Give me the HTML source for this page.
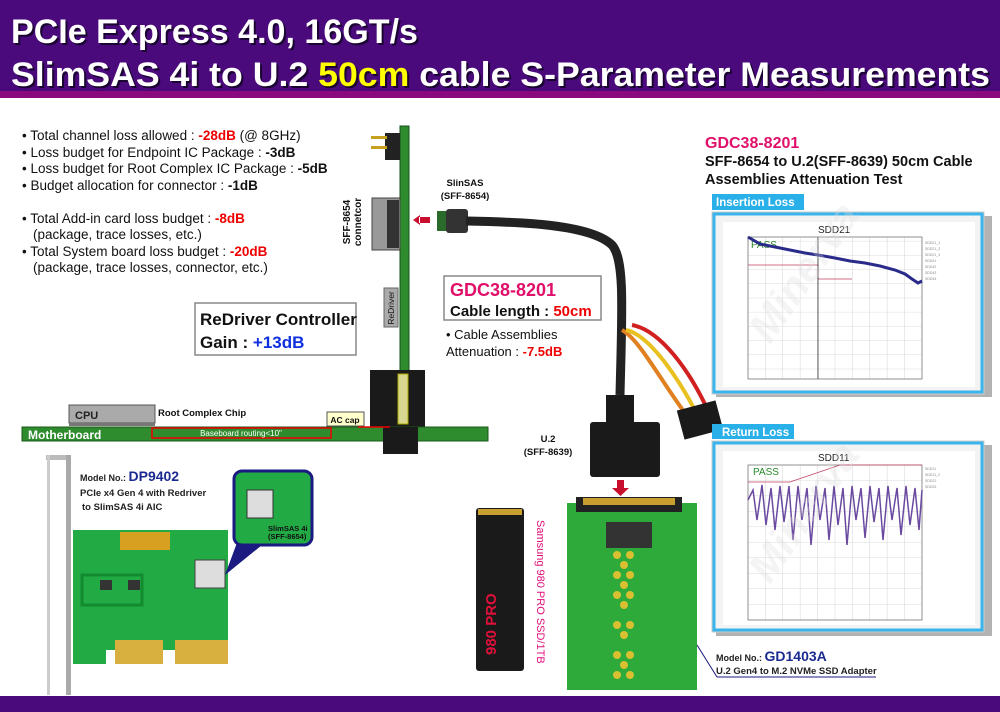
<!DOCTYPE html>
<html><head><meta charset="utf-8"><style>
html,body{margin:0;padding:0;background:#fff}
svg{display:block;font-family:"Liberation Sans",Arial,sans-serif}
</style></head><body>
<svg width="1000" height="712" viewBox="0 0 1000 712" xmlns="http://www.w3.org/2000/svg">
<defs>
<pattern id="g" width="17.4" height="14.2" patternUnits="userSpaceOnUse"><path d="M17.4 0V14.2H0" fill="none" stroke="#bbb" stroke-width="0.6"/></pattern>
<pattern id="g2" width="17.4" height="15.5" patternUnits="userSpaceOnUse"><path d="M17.4 0V15.5H0" fill="none" stroke="#bbb" stroke-width="0.6"/></pattern>
</defs>
<!-- header -->
<rect x="0" y="0" width="1000" height="92" fill="#4a0a7c"/>
<rect x="0" y="91" width="1000" height="7" fill="#8a0a7e"/>
<g font-weight="bold" font-size="34" fill="#1a0530">
<text x="13" y="45" textLength="407" lengthAdjust="spacingAndGlyphs">PCIe Express 4.0, 16GT/s</text>
<text x="13" y="88" textLength="979" lengthAdjust="spacingAndGlyphs">SlimSAS 4i to U.2 <tspan>50cm</tspan> cable S-Parameter Measurements</text>
</g>
<g font-weight="bold" font-size="34" fill="#fff">
<text x="11" y="43" textLength="407" lengthAdjust="spacingAndGlyphs">PCIe Express 4.0, 16GT/s</text>
<text x="11" y="86" textLength="979" lengthAdjust="spacingAndGlyphs">SlimSAS 4i to U.2 <tspan fill="#ffff00">50cm</tspan> cable S-Parameter Measurements</text>
</g>
<rect x="0" y="696" width="1000" height="16" fill="#4a0a7c"/>

<!-- bullets -->
<g font-size="13.5" fill="#111">
<text x="22" y="140">• Total channel loss allowed : <tspan fill="#e00" font-weight="bold">-28dB</tspan> (@ 8GHz)</text>
<text x="22" y="157">• Loss budget for Endpoint IC Package : <tspan font-weight="bold">-3dB</tspan></text>
<text x="22" y="173">• Loss budget for Root Complex IC Package : <tspan font-weight="bold">-5dB</tspan></text>
<text x="22" y="190">• Budget allocation for connector : <tspan font-weight="bold">-1dB</tspan></text>
<text x="22" y="223">• Total Add-in card loss budget : <tspan fill="#e00" font-weight="bold">-8dB</tspan></text>
<text x="33" y="239">(package, trace losses, etc.)</text>
<text x="22" y="256">• Total System board loss budget : <tspan fill="#e00" font-weight="bold">-20dB</tspan></text>
<text x="33" y="272">(package, trace losses, connector, etc.)</text>
</g>
<rect x="195" y="303" width="161" height="52" fill="#fff" stroke="#888" stroke-width="1.5"/>
<text x="200" y="325" font-size="17" font-weight="bold" fill="#111">ReDriver Controller</text>
<text x="200" y="348" font-size="17" font-weight="bold" fill="#111">Gain : <tspan fill="#1030e0">+13dB</tspan></text>

<!-- vertical card -->
<rect x="400" y="126" width="9" height="305" fill="#2e8b2e" stroke="#14501a"/>
<rect x="385" y="133" width="15" height="27" fill="#222"/>
<rect x="371" y="136" width="16" height="3" fill="#c8a020"/>
<rect x="371" y="146" width="16" height="3" fill="#c8a020"/>
<rect x="372" y="198" width="28" height="52" fill="#999" stroke="#444"/>
<rect x="387" y="200" width="12" height="48" fill="#333"/>
<text transform="translate(350,222) rotate(-90)" font-size="10" font-weight="bold" text-anchor="middle" fill="#111">SFF-8654</text>
<text transform="translate(361,222) rotate(-90)" font-size="10" font-weight="bold" text-anchor="middle" fill="#111">connetcor</text>
<rect x="384" y="288" width="14" height="39" fill="#aaa" stroke="#666"/>
<text transform="translate(394,308) rotate(-90)" font-size="8.5" text-anchor="middle" fill="#111">ReDriver</text>
<path d="M420 215 L413 220 L420 225 Z M419 217 H430 V223 H419Z" fill="#c8102e"/>
<!-- slimsas plug and cable -->
<text x="465" y="186" font-size="9.5" font-weight="bold" text-anchor="middle" fill="#111">SlinSAS</text>
<text x="465" y="199" font-size="9.5" font-weight="bold" text-anchor="middle" fill="#111">(SFF-8654)</text>
<rect x="437" y="211" width="10" height="20" fill="#2a6a2a"/>
<rect x="446" y="209" width="22" height="24" rx="3" fill="#333"/>
<path d="M466 221 C520 222, 590 224, 612 245 C625 260, 622 310, 620 395" fill="none" stroke="#222" stroke-width="9"/>
<path d="M622 330 C640 340, 660 380, 690 420" fill="none" stroke="#e08020" stroke-width="4"/>
<path d="M626 330 C650 335, 680 380, 700 420" fill="none" stroke="#e8c020" stroke-width="4"/>
<path d="M632 325 C660 330, 690 370, 710 415" fill="none" stroke="#d02020" stroke-width="4"/>
<rect x="680" y="405" width="40" height="30" fill="#1a1a1a" transform="rotate(-15 700 420)"/>
<rect x="606" y="395" width="28" height="30" fill="#1a1a1a"/>
<rect x="590" y="422" width="70" height="55" rx="3" fill="#1a1a1a"/>
<text x="548" y="442" font-size="9.5" font-weight="bold" text-anchor="middle" fill="#111">U.2</text>
<text x="548" y="455" font-size="9.5" font-weight="bold" text-anchor="middle" fill="#111">(SFF-8639)</text>
<path d="M617 480 H624 V488 H629 L620.5 496 L612 488 H617Z" fill="#c8102e"/>

<!-- GDC box -->
<rect x="444" y="276" width="157" height="44" fill="#fff" stroke="#888" stroke-width="1.5"/>
<text x="450" y="296" font-size="18" font-weight="bold" fill="#e0106a">GDC38-8201</text>
<text x="450" y="316" font-size="15" font-weight="bold" fill="#111">Cable length : <tspan fill="#e00">50cm</tspan></text>
<text x="446" y="339" font-size="13" fill="#111">• Cable Assemblies</text>
<text x="446" y="356" font-size="13" fill="#111">Attenuation : <tspan fill="#e00" font-weight="bold">-7.5dB</tspan></text>

<!-- motherboard -->
<rect x="370" y="370" width="55" height="60" fill="#1a1a1a"/>
<rect x="398" y="374" width="10" height="50" fill="#d8d890" stroke="#aa0"/>
<rect x="22" y="427" width="466" height="14" fill="#2e8b2e" stroke="#1a5a1a"/>
<rect x="383" y="427" width="35" height="27" fill="#1a1a1a"/>
<text x="28" y="439" font-size="12" font-weight="bold" fill="#fff">Motherboard</text>
<rect x="69" y="405" width="86" height="18" fill="#aaa" stroke="#555"/>
<rect x="69" y="423" width="86" height="3" fill="#777"/>
<text x="75" y="419" font-size="11" font-weight="bold" fill="#222">CPU</text>
<text x="158" y="416" font-size="9.5" font-weight="bold" fill="#111">Root Complex Chip</text>
<rect x="152" y="428" width="179" height="10" fill="none" stroke="#e00" stroke-width="1.5"/>
<text x="241" y="436" font-size="8" fill="#fff" text-anchor="middle">Baseboard routing&lt;10"</text>
<rect x="327" y="412" width="37" height="14" fill="#ffffcc" stroke="#555"/>
<text x="345" y="423" font-size="8.5" font-weight="bold" text-anchor="middle" fill="#111">AC cap</text>
<line x1="358" y1="427" x2="390" y2="427" stroke="#e00" stroke-width="1.5"/>

<!-- right title -->
<text x="705" y="148" font-size="16" font-weight="bold" fill="#e0106a">GDC38-8201</text>
<text x="705" y="166" font-size="14.5" font-weight="bold" fill="#111">SFF-8654 to U.2(SFF-8639) 50cm Cable</text>
<text x="705" y="184" font-size="14.5" font-weight="bold" fill="#111">Assemblies Attenuation Test</text>

<!-- insertion panel -->
<rect x="712" y="194" width="92" height="16" fill="#2ab0e8"/>
<text x="716" y="206" font-size="11.5" font-weight="bold" fill="#fff">Insertion Loss</text>
<rect x="716" y="216" width="276" height="181" fill="#666" opacity="0.5"/>
<rect x="712" y="212" width="272" height="182" fill="#f3f3f3" stroke="#ccc"/>
<rect x="714" y="214" width="268" height="178" fill="none" stroke="#39b4ec" stroke-width="3"/>
<rect x="723" y="222" width="252" height="165" fill="#fff"/>
<rect x="748" y="237" width="174" height="142" fill="url(#g)" stroke="#777" stroke-width="0.8"/>
<text x="818" y="233" font-size="10" fill="#222">SDD21</text>
<text x="751" y="248" font-size="10" fill="#2a8a2a">PASS</text>
<path d="M748 265 H818 V279 H852" fill="none" stroke="#c04060" stroke-width="0.8"/>
<line x1="818" y1="237" x2="818" y2="379" stroke="#333" stroke-width="0.8"/>
<polyline points="748,237 760,244 775,247 790,250 805,253 818,255 835,258 850,261 865,263 880,266 895,270 905,274 912,279 918,283 922,281" fill="none" stroke="#2a2a8a" stroke-width="3"/>
<g fill="#888" font-size="3.5"><text x="925" y="244">SDD21_1</text><text x="925" y="250">SDD21_2</text><text x="925" y="256">SDD21_3</text><text x="925" y="262">SDD41</text><text x="925" y="268">SDD42</text><text x="925" y="274">SDD43</text><text x="925" y="280">SDD44</text></g>
<text transform="translate(770,345) rotate(-55)" font-size="42" font-weight="bold" font-style="italic" fill="#ddd" opacity="0.3">Minerva</text>

<!-- return panel -->
<rect x="712" y="424" width="82" height="15" fill="#2ab0e8"/>
<text x="722" y="436" font-size="11.5" font-weight="bold" fill="#fff">Return Loss</text>
<rect x="716" y="445" width="276" height="191" fill="#666" opacity="0.5"/>
<rect x="712" y="441" width="272" height="191" fill="#f3f3f3" stroke="#ccc"/>
<rect x="714" y="443" width="268" height="187" fill="none" stroke="#39b4ec" stroke-width="3"/>
<rect x="723" y="451" width="252" height="174" fill="#fff"/>
<rect x="748" y="465" width="174" height="155" fill="url(#g2)" stroke="#777" stroke-width="0.8"/>
<text x="818" y="461" font-size="10" fill="#222">SDD11</text>
<text x="753" y="475" font-size="10" fill="#2a8a2a">PASS</text>
<path d="M748 482 H790 L840 465 H922" fill="none" stroke="#c04060" stroke-width="0.8"/>
<polyline points="748,500 753,490 757,520 762,485 766,525 771,488 775,530 780,486 784,522 789,486 793,540 798,486 802,520 807,488 811,545 816,486 820,520 825,488 829,540 834,486 838,525 843,488 847,545 852,486 856,520 861,488 865,538 870,486 874,522 879,488 883,540 888,486 892,520 897,488 901,535 906,486 910,525 915,488 919,530 922,490" fill="none" stroke="#6a4aa0" stroke-width="1.5"/>
<g fill="#888" font-size="3.5"><text x="925" y="470">SDD11</text><text x="925" y="476">SDD11_2</text><text x="925" y="482">SDD22</text><text x="925" y="488">SDD33</text></g>
<text transform="translate(770,585) rotate(-55)" font-size="42" font-weight="bold" font-style="italic" fill="#ddd" opacity="0.3">Minerva</text>

<!-- DP9402 card -->
<rect x="46" y="455" width="24" height="5" fill="#bbb"/>
<rect x="66" y="455" width="5" height="240" fill="#aaa"/>
<rect x="47" y="455" width="3" height="240" fill="#ccc"/>
<rect x="73" y="530" width="155" height="120" fill="#22aa44"/>
<rect x="73" y="650" width="33" height="14" fill="#22aa44"/>
<rect x="115" y="640" width="48" height="24" fill="#d8b040"/>
<rect x="175" y="640" width="53" height="24" fill="#d8b040"/>
<rect x="82" y="575" width="60" height="30" fill="none" stroke="#148a30" stroke-width="3"/>
<rect x="100" y="580" width="12" height="10" fill="#333"/><rect x="128" y="580" width="12" height="10" fill="#333"/>
<rect x="195" y="560" width="30" height="28" fill="#ddd" stroke="#444"/>
<rect x="120" y="532" width="50" height="18" fill="#d8a020"/>
<text x="80" y="481" font-size="9" font-weight="bold" fill="#222">Model No.: <tspan font-size="14" fill="#1a2a90">DP9402</tspan></text>
<text x="80" y="496" font-size="9.5" font-weight="bold" fill="#222">PCIe x4 Gen 4 with Redriver</text>
<text x="82" y="510" font-size="9.5" font-weight="bold" fill="#222">to SlimSAS 4i AIC</text>
<path d="M238 540 L225 575 L262 545Z" fill="#1a1a80"/>
<rect x="234" y="471" width="78" height="74" rx="8" fill="#22aa44" stroke="#1a1a80" stroke-width="3"/>
<rect x="247" y="490" width="26" height="28" fill="#ddd" stroke="#333"/>
<text x="268" y="531" font-size="7.5" font-weight="bold" fill="#111">SlimSAS 4i</text>
<text x="268" y="539" font-size="7.5" font-weight="bold" fill="#111">(SFF-8654)</text>

<!-- SSD -->
<rect x="476" y="508" width="48" height="163" rx="3" fill="#1a1a1a"/>
<rect x="478" y="509" width="44" height="6" fill="#c9a030"/>
<text transform="translate(496,655) rotate(-90)" font-size="15" font-weight="bold" fill="#e0103a">980 PRO</text>
<text transform="translate(537,520) rotate(90)" font-size="11" fill="#e0107a">Samsung 980 PRO SSD/1TB</text>

<!-- adapter -->
<rect x="567" y="503" width="130" height="192" fill="#2eaa3a"/>
<rect x="576" y="497" width="106" height="15" fill="#222"/>
<rect x="583" y="498" width="92" height="7" fill="#c9a030"/>
<rect x="606" y="522" width="46" height="26" fill="#333"/>
<g fill="#d8c030">
<circle cx="617" cy="555" r="4"/><circle cx="630" cy="555" r="4"/><circle cx="624" cy="565" r="4"/><circle cx="617" cy="575" r="4"/><circle cx="630" cy="575" r="4"/><circle cx="624" cy="585" r="4"/><circle cx="617" cy="595" r="4"/><circle cx="630" cy="595" r="4"/><circle cx="624" cy="605" r="4"/><circle cx="617" cy="625" r="4"/><circle cx="630" cy="625" r="4"/><circle cx="624" cy="635" r="4"/><circle cx="617" cy="655" r="4"/><circle cx="630" cy="655" r="4"/><circle cx="624" cy="665" r="4"/><circle cx="617" cy="675" r="4"/><circle cx="630" cy="675" r="4"/>
</g>
<rect x="567" y="690" width="130" height="5" fill="#fff"/>
<line x1="697" y1="645" x2="717" y2="677" stroke="#1a1a80"/>
<line x1="717" y1="677" x2="876" y2="677" stroke="#1a1a80"/>
<text x="716" y="661" font-size="9" font-weight="bold" fill="#222">Model No.: <tspan font-size="14" fill="#1a2a90">GD1403A</tspan></text>
<text x="716" y="674" font-size="9.5" font-weight="bold" fill="#222">U.2 Gen4 to M.2 NVMe SSD Adapter</text>
</svg>
</body></html>
